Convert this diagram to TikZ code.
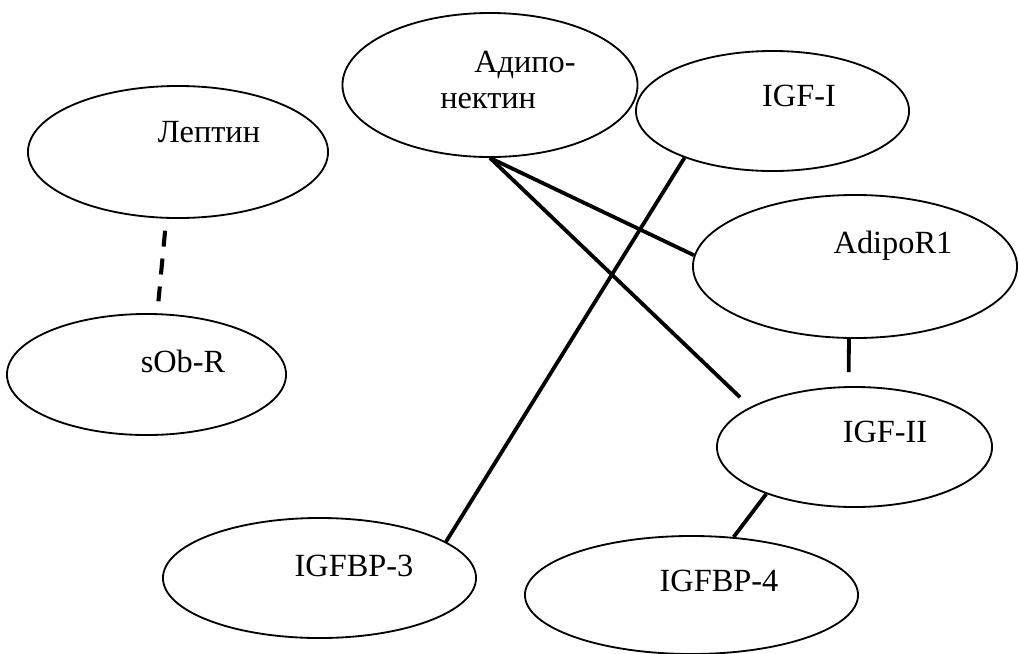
\documentclass[tikz,border=0pt]{standalone}
\usepackage{fontspec}
\setmainfont{Liberation Serif}
\usetikzlibrary{shapes}

\begin{document}
\begin{tikzpicture}[
    x=0.025cm, y=-0.025cm,
    every node/.style={font=\fontsize{23}{25}\selectfont},
    blob/.style={draw, ellipse, line width=1.3pt, inner sep=0pt},
    link/.style={line width=2.7pt},
    weaklink/.style={line width=2.9pt, dash pattern=on 0.4cm off 0.3cm, shorten <=0.3cm, shorten >=0.3cm}
]
    \useasboundingbox (0,0) rectangle (1019,653);

    \node[blob, minimum width=7.5cm, minimum height=3.3cm, label={[shift={(31,-20)}]center:Лептин}] (leptin) at (178,152) {};
    \node[blob, minimum width=7.375cm, minimum height=3.6cm, label={[align=left, shift={(18,-5)}]center:\hspace*{0.85cm}Адипо-\\нектин}] (adipo) at (490,85) {};
    \node[blob, minimum width=6.825cm, minimum height=3cm, label={[shift={(26.5,-15)}]center:IGF-I}] (igfi) at (772.5,111) {};
    \node[blob, minimum width=8.1cm, minimum height=3.575cm, label={[shift={(38,-20.5)}]center:AdipoR1}] (adipor) at (855,266.5) {};
    \node[blob, minimum width=6.975cm, minimum height=3.025cm, label={[shift={(36.5,-13.5)}]center:sOb-R}] (sob) at (146.5,374.5) {};
    \node[blob, minimum width=6.875cm, minimum height=3cm, label={[shift={(30.5,-15)}]center:IGF-II}] (igfii) at (854.5,447) {};
    \node[blob, minimum width=7.825cm, minimum height=3cm, label={[shift={(34.5,-12)}]center:IGFBP-3}] (igfbpc) at (319.5,578) {};
    \node[blob, minimum width=8.325cm, minimum height=2.95cm, label={[shift={(27.5,-14)}]center:IGFBP-4}] (igfbpd) at (691.5,595) {};

    \draw[weaklink] (leptin.260) -- (sob.80);
    \draw[link] (adipo.south) -- (adipor.176);
    \draw[link, shorten >=0.35cm] (adipo.south) -- (igfii.159);
    \draw[link] (igfi.208) -- (igfbpc.16);
    \draw[link, shorten >=0.35cm] ([xshift=-0.15cm]adipor.south) -- ([xshift=-0.15cm]igfii.north);
    \draw[link] (igfii.208) -- (igfbpd.54);
\end{tikzpicture}
\end{document}
